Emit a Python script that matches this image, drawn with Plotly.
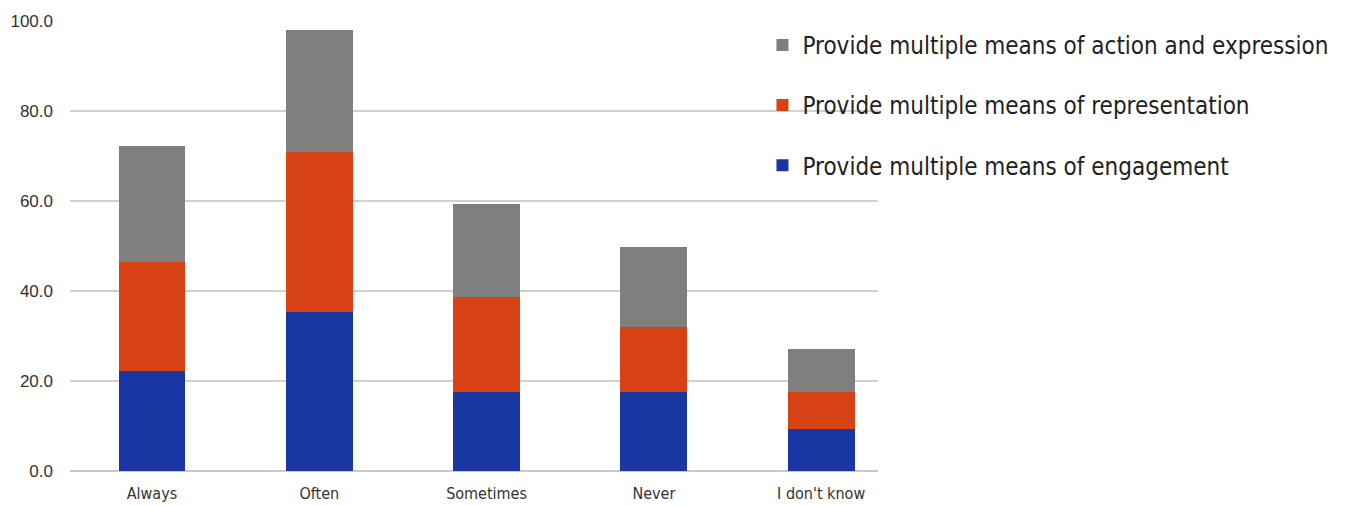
import plotly.graph_objects as go

categories = ["Always", "Often", "Sometimes", "Never", "I don't know"]
engagement = [22.2, 35.3, 17.6, 17.6, 9.3]
representation = [24.2, 35.6, 21.1, 14.4, 8.3]
action_expression = [25.8, 27.1, 20.6, 17.8, 9.5]
y_ticks = [0, 20, 40, 60, 80, 100]

series = [
    ("Provide multiple means of engagement", engagement, "#1a36a2"),
    ("Provide multiple means of representation", representation, "#d84315"),
    ("Provide multiple means of action and expression", action_expression, "#7f7f7f"),
]

fig = go.Figure()
for i, (name, vals, col) in enumerate(series):
    fig.add_trace(go.Bar(
        x=categories, y=vals, name=name, marker_color=col,
        marker_line_width=0, width=0.4, legendgroup=f"g{i}",
        legendrank=1000 - i,
    ))

fig.update_layout(
    barmode="stack",
    width=1346, height=506,
    margin=dict(l=70, r=468, t=21, b=35),
    plot_bgcolor="white", paper_bgcolor="white",
    font=dict(family="DejaVu Sans Condensed, DejaVu Sans", color="#333333"),
    legend=dict(
        traceorder="grouped", x=0.857, y=0.996, xanchor="left", yanchor="top",
        font=dict(size=24, color="#222222"), tracegroupgap=26,
        bgcolor="rgba(0,0,0,0)", itemwidth=30,
    ),
    xaxis=dict(range=[-0.49, 4.34], showgrid=False, showline=False, ticks="",
               automargin=False,
               tickfont=dict(size=16, family="Liberation Sans Narrow, DejaVu Sans Condensed"),
               ticklabelstandoff=11),
    yaxis=dict(range=[0, 100], tickvals=y_ticks, ticktext=[f"{v:.1f}" for v in y_ticks],
               showgrid=True, gridcolor="#d0d0d0", gridwidth=2, zeroline=True,
               zerolinecolor="#c8c8c8", zerolinewidth=2, ticks="", automargin=False,
               tickfont=dict(size=17, family="Liberation Sans"), ticklabelstandoff=16),
)

fig.write_html("out.html")
